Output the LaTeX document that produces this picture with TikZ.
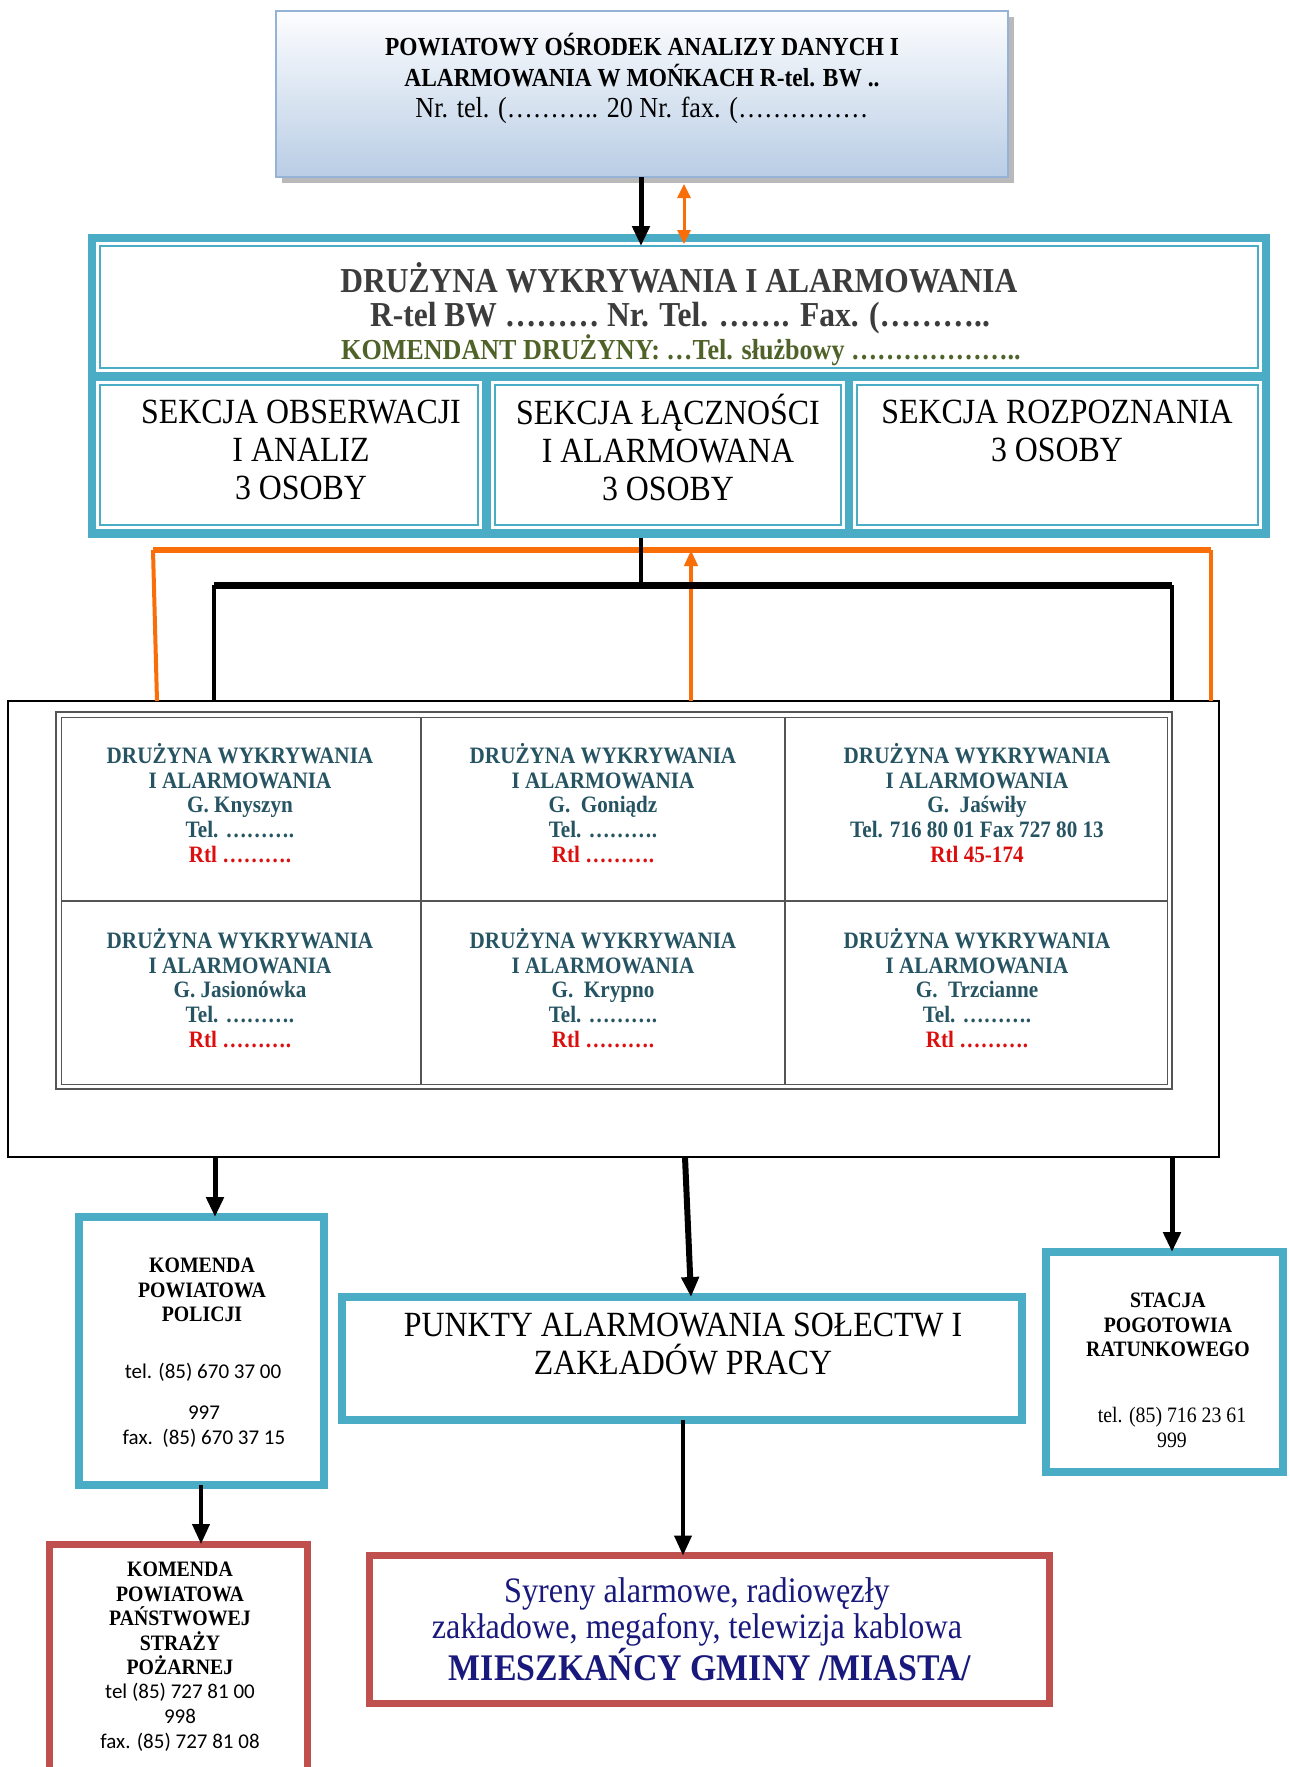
\documentclass[tikz,border=0pt]{standalone}
\usepackage{fontspec}
\usetikzlibrary{arrows.meta}
\newfontfamily\tnr[FakeStretch=0.9]{Liberation Serif}
\newfontfamily\calsans{Carlito}
\definecolor{teal1}{RGB}{75,172,198}
\definecolor{redbox}{RGB}{192,80,77}
\definecolor{orng}{RGB}{250,110,10}
\definecolor{olive1}{RGB}{79,98,40}
\definecolor{cellc}{RGB}{38,84,98}
\definecolor{rtl}{RGB}{220,15,15}
\definecolor{navy1}{RGB}{25,25,125}
\definecolor{topb}{RGB}{149,179,215}
\definecolor{topf}{RGB}{185,205,229}
\definecolor{hdrc}{RGB}{60,60,60}
\definecolor{gridc}{RGB}{85,85,85}
\begin{document}
\begin{tikzpicture}[x=1pt,y=-1pt,
  txt/.style={inner sep=0pt, outer sep=0pt, align=center},
  plainbox/.style={rectangle, inner sep=0pt, outer sep=0pt},
  tealbox/.style={plainbox, draw=teal1, line width=8pt},
  redbx/.style={plainbox, draw=redbox, line width=7pt},
  thinteal/.style={plainbox, draw=teal1, line width=2pt},
  arr/.style={-{Triangle[length=20pt,width=17pt]}, line width=5pt},
  oarr/.style={orng, line width=4pt},
  bold22/.style={txt, font=\tnr\bfseries\fontsize{22}{24.6}\selectfont},
  sans20/.style={txt, font=\calsans\fontsize{21}{25}\selectfont},
  cell/.style={txt, text=cellc, font=\tnr\bfseries\fontsize{23.5}{24.75}\selectfont},
  sect/.style={txt, font=\tnr\fontsize{35.4}{38}\selectfont}
]
\fill[white] (0,0) rectangle (1290,1767);
\clip (0,0) rectangle (1290,1767);

% ---------- top box ----------
\fill[gray!55] (282,17) rectangle (1014,183);
\node[plainbox, draw=topb, line width=2pt, top color=white!97!topf, bottom color=topf,
      minimum width=732pt, minimum height=166pt] (top) at (642,94) {};
\node[txt, font=\tnr\fontsize{26}{31.5}\selectfont] (topT) at (642,60)
  {\textbf{POWIATOWY OŚRODEK ANALIZY DANYCH I}\\
   \textbf{ALARMOWANIA W MOŃKACH R-tel. BW ..}};
\node[txt, font=\tnr\fontsize{29}{31.5}\selectfont] (topT2) at (642,110)
  {Nr. tel. (……….. 20 Nr. fax. (……………};

% ---------- DWiA box ----------
\node[plainbox, fill=teal1, minimum width=1182pt, minimum height=304pt] (dwia) at (679,386) {};
\fill[white] (96,242) rectangle (1262,372);
\fill[white] (96,381) rectangle (482,529);
\fill[white] (491,381) rectangle (845,529);
\fill[white] (853,381) rectangle (1262,529);
\node[thinteal, minimum width=1158pt, minimum height=122pt] (hdr) at (679,307) {};
\node[thinteal, minimum width=378pt, minimum height=140pt] (sec1) at (289,455) {};
\node[thinteal, minimum width=346pt, minimum height=140pt] (sec2) at (668,455) {};
\node[thinteal, minimum width=401pt, minimum height=140pt] (sec3) at (1057.5,455) {};

\node[txt, text=hdrc, font=\tnr\bfseries\fontsize{35}{35}\selectfont] (h1) at (679,278)
  {DRUŻYNA WYKRYWANIA I ALARMOWANIA};
\node[txt, text=hdrc, font=\tnr\bfseries\fontsize{35}{35}\selectfont] (h2) at (680,318)
  {R-tel BW ……… Nr. Tel. ……. Fax. (………..};
\node[txt, text=olive1, font=\tnr\bfseries\fontsize{29}{29}\selectfont] (h3) at (681,350)
  {KOMENDANT DRUŻYNY: …Tel. służbowy ………………..};

\node[sect] (s1T) at (301,450) {SEKCJA OBSERWACJI\\I ANALIZ\\3 OSOBY};
\node[sect] (s2T) at (668,447) {SEKCJA ŁĄCZNOŚCI\\I ALARMOWANA\\3 OSOBY};
\node[sect] (s3T) at (1057,431) {SEKCJA ROZPOZNANIA\\3 OSOBY};

% arrows top -> DWiA
\coordinate (xa) at (641,0);
\coordinate (xb) at (684,0);
\draw[arr] (top.south -| xa) -- (hdr.north -| xa);
\draw[orng, line width=3pt, {Triangle[length=14pt,width=13pt]}-{Triangle[length=14pt,width=13pt]}]
  ([yshift=-7pt]top.south -| xb) -- ([yshift=2pt]hdr.north -| xb);

% ---------- container with table ----------
\node[plainbox, draw=black, line width=1.3pt, minimum width=1211pt, minimum height=456pt] (cont) at (613.5,929) {};
\node[plainbox, draw=gridc, line width=2.5pt, minimum width=1116pt, minimum height=377pt] (tbl) at (614,900.5) {};
\node[plainbox, draw=gridc, line width=1pt, minimum width=1106pt, minimum height=367pt] (tblin) at (614,900.5) {};
\coordinate (cx1) at (421,0);
\coordinate (cx2) at (785,0);
\coordinate (ry) at (0,901);
\draw[gridc, line width=1.5pt] (tblin.north -| cx1) -- (tblin.south -| cx1);
\draw[gridc, line width=1.5pt] (tblin.north -| cx2) -- (tblin.south -| cx2);
\draw[gridc, line width=1.5pt] (tblin.west |- ry) -- (tblin.east |- ry);

\node[cell] (c11) at (240,803)
  {DRUŻYNA WYKRYWANIA\\I ALARMOWANIA\\G. Knyszyn\\Tel. ……….\\\textcolor{rtl}{Rtl ……….}};
\node[cell] (c12) at (603,803)
  {DRUŻYNA WYKRYWANIA\\I ALARMOWANIA\\G.\ \ Goniądz\\Tel. ……….\\\textcolor{rtl}{Rtl ……….}};
\node[cell] (c13) at (977,803)
  {DRUŻYNA WYKRYWANIA\\I ALARMOWANIA\\G.\ \ Jaświły\\Tel. 716 80 01 Fax 727 80 13\\\textcolor{rtl}{Rtl 45-174}};
\node[cell] (c21) at (240,988)
  {DRUŻYNA WYKRYWANIA\\I ALARMOWANIA\\G. Jasionówka\\Tel. ……….\\\textcolor{rtl}{Rtl ……….}};
\node[cell] (c22) at (603,988)
  {DRUŻYNA WYKRYWANIA\\I ALARMOWANIA\\G.\ \ Krypno\\Tel. ……….\\\textcolor{rtl}{Rtl ……….}};
\node[cell] (c23) at (977,988)
  {DRUŻYNA WYKRYWANIA\\I ALARMOWANIA\\G.\ \ Trzcianne\\Tel. ……….\\\textcolor{rtl}{Rtl ……….}};

% ---------- connectors DWiA -> container ----------
\coordinate (orL) at (153,550);
\coordinate (orR) at (1211,550);
\coordinate (xo) at (691,0);
\coordinate (bk) at (641,585);
\coordinate (bkL) at (214,585);
\coordinate (bkR) at (1172,585);
\draw[orng, line width=6pt] (orL) -- (orR);
\draw[oarr] (orL) -- ([xshift=4pt]cont.north -| orL);
\draw[oarr] (orR) -- (cont.north -| orR);
\draw[oarr, -{Triangle[length=16pt,width=13pt]}] (cont.north -| xo) -- (orL -| xo);
\draw[line width=3.5pt] (dwia.south -| xa) -- (bk);
\draw[line width=7pt] (bkL) -- (bkR);
\draw[line width=3.5pt] (bkL) -- (cont.north -| bkL);
\draw[line width=3.5pt] (bkR) -- (cont.north -| bkR);

% ---------- lower boxes ----------
\node[tealbox, minimum width=245pt, minimum height=268pt] (pol) at (201.5,1351) {};
\node[tealbox, minimum width=680pt, minimum height=123pt] (pun) at (682,1358.5) {};
\node[tealbox, minimum width=237pt, minimum height=220pt] (sta) at (1164.5,1362) {};
\node[redbx, minimum width=258pt, minimum height=246pt] (kp) at (178.5,1667) {};
\node[redbx, minimum width=680pt, minimum height=148pt] (sy) at (709.5,1629.5) {};

\coordinate (xp) at (215,0);
\coordinate (xq) at (201,0);
\coordinate (xr) at (683,0);
\draw[arr] (cont.south -| xp) -- (pol.north -| xp);
\draw[arr, line width=6pt] ([xshift=2pt]cont.south -| xr) -- ([xshift=8pt]pun.north -| xr);
\draw[arr] (cont.south -| bkR) -- (sta.north -| bkR);
\draw[arr, line width=4pt] (pol.south -| xq) -- (kp.north -| xq);
\draw[arr, line width=4pt] (pun.south -| xr) -- (sy.north -| xr);

% texts of lower boxes
\node[bold22] (polT) at (202,1290) {KOMENDA\\POWIATOWA\\POLICJI};
\node[sans20] (polS1) at (203,1372) {tel. (85) 670 37 00};
\node[sans20] (polS2) at (204,1426.5) {997\\fax.\ \ (85) 670 37 15};

\node[sect] (punT) at (683,1344) {PUNKTY ALARMOWANIA SOŁECTW I\\ZAKŁADÓW PRACY};

\node[bold22] (staT) at (1168,1325) {STACJA\\POGOTOWIA\\RATUNKOWEGO};
\node[txt, font=\tnr\fontsize{22}{25}\selectfont] (staS) at (1172,1427.5) {tel. (85) 716 23 61\\999};

\node[bold22] (kpT) at (180,1618.5) {KOMENDA\\POWIATOWA\\PAŃSTWOWEJ\\STRAŻY\\POŻARNEJ};
\node[sans20] (kpS) at (180,1717.5) {tel (85) 727 81 00\\998\\fax. (85) 727 81 08};

\node[txt, text=navy1, font=\tnr\fontsize{35.8}{36}\selectfont] (syT) at (697,1612)
  {Syreny alarmowe, radiowęzły\\zakładowe, megafony, telewizja kablowa};
\node[txt, text=navy1, font=\tnr\bfseries\fontsize{37.6}{37.6}\selectfont] (syT2) at (710,1665)
  {MIESZKAŃCY GMINY /MIASTA/};
\end{tikzpicture}
\end{document}
